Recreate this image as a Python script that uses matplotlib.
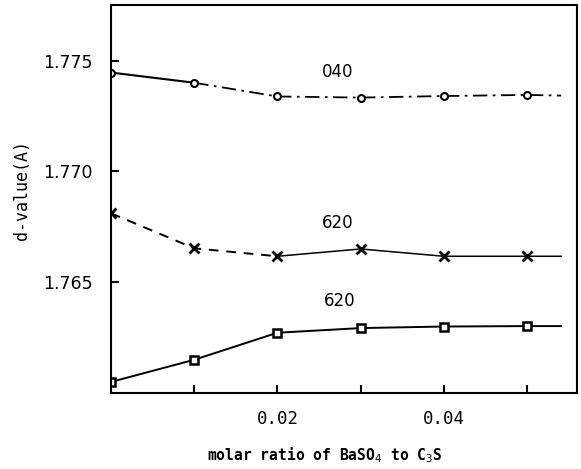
import matplotlib
matplotlib.use("Agg")
import matplotlib.pyplot as plt

x = [0.0, 0.01, 0.02, 0.03, 0.04, 0.05]
d040 = [1.77446, 1.77400, 1.77338, 1.77333, 1.77340, 1.77345]
d620x = [1.76811, 1.76653, 1.76617, 1.76650, 1.76617, 1.76617]
d620s = [1.76050, 1.76150, 1.76272, 1.76293, 1.76300, 1.76302]
x_end = 0.0541
xticks = [0.02, 0.04]
yticks = [1.765, 1.770, 1.775]

fig = plt.figure(figsize=(5.81, 4.69), dpi=100)
ax = fig.add_axes([0.191, 0.162, 0.802, 0.827])
ax.set_xlim(0, 0.056)
ax.set_ylim(1.760, 1.7775)

mono = "DejaVu Sans Mono"

# 040 series
ax.plot(x[:2], d040[:2], color="black", lw=1.5)
ax.plot(x[1:] + [x_end], d040[1:] + [d040[-1] - 0.00003], color="black", lw=1.3,
        linestyle=(0, (8, 3, 1.5, 3)))
ax.plot(x, d040, linestyle="none", marker="o", ms=5, mfc="white", mec="black", mew=1.5)

# 620 crosses
ax.plot(x[:3], d620x[:3], color="black", lw=1.4, linestyle=(0, (5, 4)))
ax.plot(x[2:] + [x_end], d620x[2:] + [d620x[-1]], color="black", lw=1.1)
ax.plot(x, d620x, linestyle="none", marker="x", ms=7, mec="black", mew=2)

# 620 squares
ax.plot(x + [x_end], d620s + [d620s[-1]], color="black", lw=1.4)
ax.plot(x, d620s, linestyle="none", marker="s", ms=6, mfc="white", mec="black", mew=1.8)

ax.text(0.0253, 1.77450, "040", fontsize=12, ha="left", va="center", family="DejaVu Sans")
ax.text(0.0253, 1.76766, "620", fontsize=12, ha="left", va="center", family="DejaVu Sans")
ax.text(0.0256, 1.76414, "620", fontsize=12, ha="left", va="center", family="DejaVu Sans")

ax.set_xticks([0.01, 0.02, 0.03, 0.04, 0.05])
ax.set_xticklabels(["", "0.02", "", "0.04", ""], family=mono, fontsize=12.5)
ax.set_yticks(yticks)
ax.set_yticklabels(["1.765", "1.770", "1.775"], family="DejaVu Sans", fontsize=12.5)
ax.tick_params(direction="in", length=6, width=1.5)
ax.tick_params(axis="x", pad=12)
ax.tick_params(axis="y", pad=13)
for s in ax.spines.values():
    s.set_linewidth(1.5)

fig.text(325 / 581, 1 - 455 / 469, "molar ratio of BaSO$_4$ to C$_3$S", family=mono,
         fontsize=10.5, fontweight="bold", ha="center", va="center")
fig.text(22 / 581, 1 - 190 / 469, "d-value(A)", family=mono, fontsize=12,
         rotation=90, ha="center", va="center")

fig.savefig("out.png", dpi=100)
